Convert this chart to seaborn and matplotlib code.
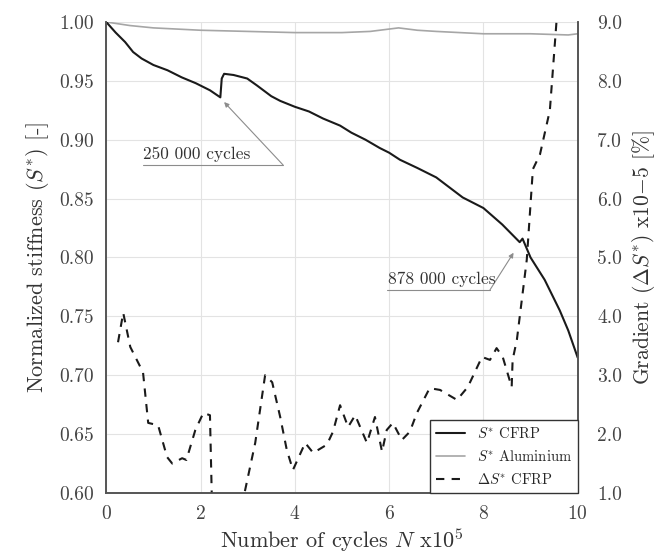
import matplotlib
matplotlib.use("Agg")
import matplotlib.pyplot as plt
import seaborn as sns

# Stiffness readings, cycles in units of 1e5
cfrp_n = [0, 0.2, 0.4, 0.57, 0.75, 1.0, 1.3, 1.6, 1.9, 2.2, 2.42, 2.45, 2.5, 2.7,
          2.99, 3.2, 3.5, 3.69, 4.0, 4.3, 4.6, 4.96, 5.2, 5.5, 5.8, 6.0, 6.23, 6.6,
          7.0, 7.56, 8.0, 8.4, 8.77, 8.83, 9.0, 9.3, 9.62, 9.8, 10.0]
cfrp_s = [1.0, 0.991, 0.983, 0.9745, 0.969, 0.9635, 0.959, 0.953, 0.948, 0.942,
          0.936, 0.952, 0.956, 0.955, 0.952, 0.946, 0.937, 0.933, 0.928, 0.924,
          0.918, 0.912, 0.906, 0.900, 0.893, 0.889, 0.883, 0.876, 0.868, 0.851,
          0.842, 0.828, 0.813, 0.816, 0.800, 0.781, 0.755, 0.738, 0.715]

alu_n = [0, 0.5, 1, 2, 3, 4, 5, 5.6, 6.0, 6.2, 6.6, 7, 8, 9, 9.8, 10]
alu_s = [1.0, 0.997, 0.995, 0.993, 0.992, 0.991, 0.991, 0.992, 0.994, 0.995,
         0.993, 0.992, 0.990, 0.990, 0.989, 0.990]

grad_n = [0.25, 0.36, 0.51, 0.78, 0.89, 1.1, 1.29, 1.4, 1.61, 1.7, 1.89, 2.06, 2.2,
          2.26, 2.88, 3.16, 3.37, 3.52, 3.69, 3.83, 3.96, 4.22, 4.39, 4.68, 4.81,
          4.96, 5.13, 5.28, 5.53, 5.7, 5.85, 5.95, 6.08, 6.27, 6.44, 6.59, 6.86,
          7.08, 7.44, 7.67, 7.97, 8.14, 8.28, 8.41, 8.6, 8.62, 8.71, 8.92, 9.05,
          9.2, 9.41, 9.55, 9.6]
grad_s = [3.56, 4.06, 3.48, 3.05, 2.19, 2.15, 1.61, 1.5, 1.59, 1.56, 2.07, 2.36, 2.32,
          0.2, 0.8, 1.85, 3.0, 2.88, 2.29, 1.73, 1.39, 1.85, 1.68, 1.82, 2.04,
          2.49, 2.12, 2.32, 1.85, 2.29, 1.70, 2.07, 2.19, 1.9, 2.04, 2.36, 2.78,
          2.75, 2.58, 2.8, 3.31, 3.26, 3.46, 3.31, 2.8, 3.26, 3.6, 4.96, 6.5,
          6.75, 7.5, 9.0, 9.3]

x_ticks = [0, 2, 4, 6, 8, 10]
left_ticks = [0.60, 0.65, 0.70, 0.75, 0.80, 0.85, 0.90, 0.95, 1.00]
right_ticks = [1, 2, 3, 4, 5, 6, 7, 8, 9]

sns.set_style("white")
plt.rcParams['font.family'] = ['serif']
plt.rcParams['font.serif'] = ['cmr10', 'DejaVu Serif']
plt.rcParams['mathtext.fontset'] = 'cm'
plt.rcParams['axes.formatter.use_mathtext'] = True
plt.rcParams['axes.unicode_minus'] = False

fig = plt.figure(figsize=(6.64, 5.57), dpi=100)
ax = fig.add_axes([0.16, 0.115, 0.71, 0.8455])
ax2 = ax.twinx()

sns.lineplot(x=alu_n, y=alu_s, ax=ax, color='#a6a6a6', lw=1.2, estimator=None, sort=False)
sns.lineplot(x=cfrp_n, y=cfrp_s, ax=ax, color='#1a1a1a', lw=1.5, estimator=None, sort=False)
sns.lineplot(x=grad_n, y=grad_s, ax=ax2, color='#1a1a1a', lw=1.5, estimator=None,
             sort=False, linestyle=(0, (4, 3.5)))

ax.set_xlim(0, 10)
ax.set_ylim(0.60, 1.00)
ax2.set_ylim(1.0, 9.0)
ax.set_xticks(x_ticks)
ax.set_yticks(left_ticks)
ax.set_yticklabels([f"{v:.2f}" for v in left_ticks])
ax2.set_yticks(right_ticks)
ax2.set_yticklabels([f"{v:.1f}" for v in right_ticks])

ax.grid(True, color='#e3e3e3', lw=0.8)
ax.set_axisbelow(True)
ax2.grid(False)

for a in (ax, ax2):
    a.tick_params(labelsize=14, colors='#444444', length=0)
    for side in ('left', 'right', 'bottom'):
        a.spines[side].set_color('#555555')
        a.spines[side].set_linewidth(1.2)
    a.spines['top'].set_visible(False)
ax.tick_params(axis='y', pad=9)
ax.tick_params(axis='x', pad=9)
ax2.tick_params(axis='y', pad=14)

ax.set_xlabel(r"Number of cycles $N$ x10$^5$", fontsize=16, color='#333333', labelpad=2)
ax.set_ylabel(r"Normalized stiffness ($S^{*}$) [-]", fontsize=16, color='#333333', labelpad=6)
ax2.set_ylabel(r"Gradient ($\Delta S^{*}$) x10$-$5 [%]", fontsize=15.5, color='#333333', labelpad=6)

ann = dict(arrowprops=dict(arrowstyle='-|>', color='#8c8c8c', lw=0.8,
                           shrinkA=0, shrinkB=0, mutation_scale=7))
ax.annotate("", xy=(2.5, 0.932), xytext=(3.75, 0.8786), **ann)
ax.plot([0.78, 3.75], [0.8786, 0.8786], color='#8c8c8c', lw=0.8)
ax.text(0.78, 0.8812, "250 000 cycles", fontsize=12.5, color='#333333', va='bottom')

ax.annotate("", xy=(8.64, 0.804), xytext=(8.14, 0.7725), **ann)
ax.plot([5.95, 8.14], [0.7725, 0.7725], color='#8c8c8c', lw=0.8)
ax.text(5.97, 0.7752, "878 000 cycles", fontsize=12.5, color='#333333', va='bottom')

h1 = ax.get_lines()[1]
h2 = ax.get_lines()[0]
h3 = ax2.get_lines()[0]
leg = ax2.legend([h1, h2, h3], [r"$S^{*}$ CFRP", r"$S^{*}$ Aluminium", r"$\Delta S^{*}$ CFRP"],
                 loc='lower right', fontsize=10.5, frameon=True, fancybox=False,
                 framealpha=1, edgecolor='#333333', borderaxespad=0, handlelength=2.0,
                 labelspacing=0.55)
leg.get_frame().set_linewidth(1.0)

fig.savefig("out.png", dpi=100)
